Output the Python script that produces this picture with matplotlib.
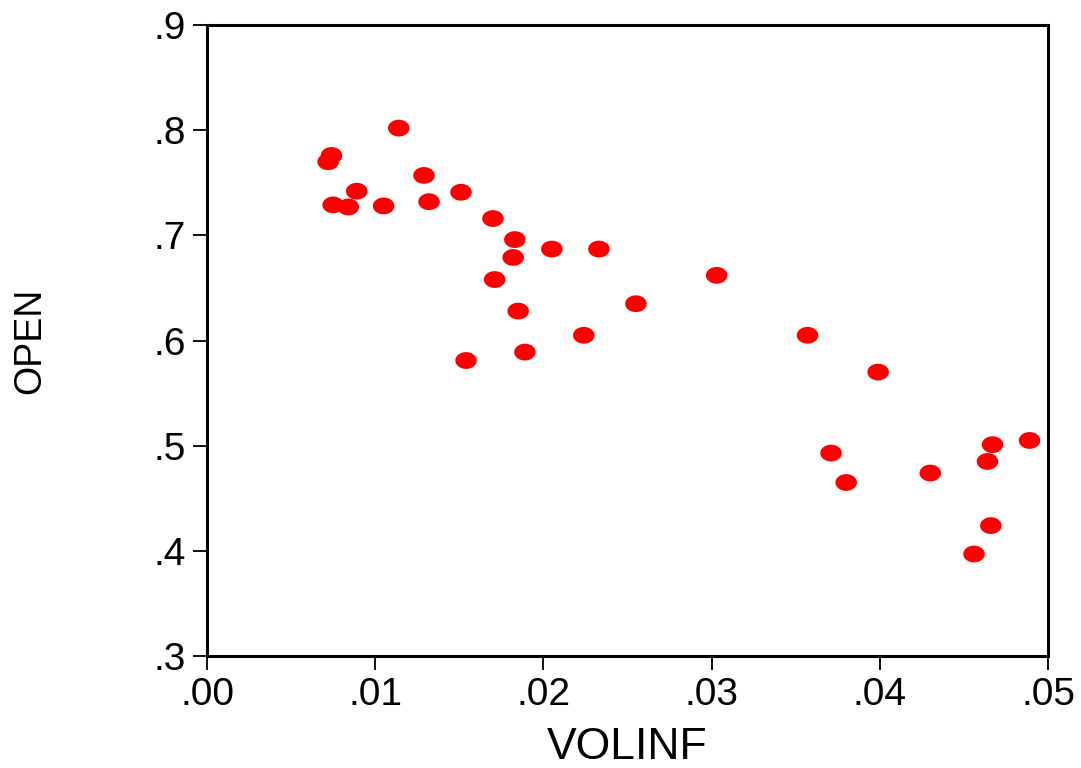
import matplotlib
matplotlib.use("Agg")
import matplotlib.pyplot as plt
import numpy as np
from matplotlib.path import Path

volinf = [0.0072, 0.0074, 0.0075, 0.0084, 0.0089, 0.0105, 0.0114, 0.0129, 0.0132, 0.0151,
          0.0170, 0.0171, 0.0183, 0.0182, 0.0185, 0.0154, 0.0189, 0.0205, 0.0224, 0.0233,
          0.0255, 0.0303, 0.0357, 0.0399, 0.0371, 0.0380, 0.0430, 0.0456, 0.0466, 0.0464,
          0.0467, 0.0489]
open_ = [0.770, 0.776, 0.729, 0.727, 0.742, 0.728, 0.802, 0.757, 0.732, 0.741,
         0.716, 0.658, 0.696, 0.679, 0.628, 0.581, 0.589, 0.687, 0.605, 0.687,
         0.635, 0.662, 0.605, 0.570, 0.493, 0.465, 0.474, 0.397, 0.424, 0.485,
         0.501, 0.505]

xticks = [0.00, 0.01, 0.02, 0.03, 0.04, 0.05]
xticklabels = [".00", ".01", ".02", ".03", ".04", ".05"]
yticks = [0.3, 0.4, 0.5, 0.6, 0.7, 0.8, 0.9]
yticklabels = [".3", ".4", ".5", ".6", ".7", ".8", ".9"]

fam = ["Liberation Sans", "DejaVu Sans"]

fig = plt.figure(figsize=(10.81, 7.68), dpi=100)
ax = fig.add_axes([0.1915, 0.1458, 0.9695 - 0.1915, 0.9674 - 0.1458])

t = np.linspace(0, 2 * np.pi, 60)
ell = Path(np.column_stack([np.cos(t), 0.78 * np.sin(t)]), closed=True)
ax.scatter(volinf, open_, marker=ell, s=240, color="#ff0000", edgecolors="none", zorder=3)

ax.set_xlim(0.0, 0.05)
ax.set_ylim(0.3, 0.9)
ax.set_xticks(xticks)
ax.set_xticklabels(xticklabels, family=fam, fontsize=28)
ax.set_yticks(yticks)
ax.set_yticklabels(yticklabels, family=fam, fontsize=28)
for s in ax.spines.values():
    s.set_linewidth(2.2)
ax.tick_params(direction="out", length=10, width=1.3, pad=5, top=False, right=False)
ax.set_xlabel("VOLINF", family=fam, fontsize=32)
ax.xaxis.set_label_coords(0.5, -0.178)
ax.xaxis.label.set_va("bottom")
ax.set_ylabel("OPEN", family=fam, fontsize=27)
ax.yaxis.set_label_coords(-0.21, 0.5)
ax.yaxis.label.set_va("center")

fig.savefig("out.png", dpi=100)
